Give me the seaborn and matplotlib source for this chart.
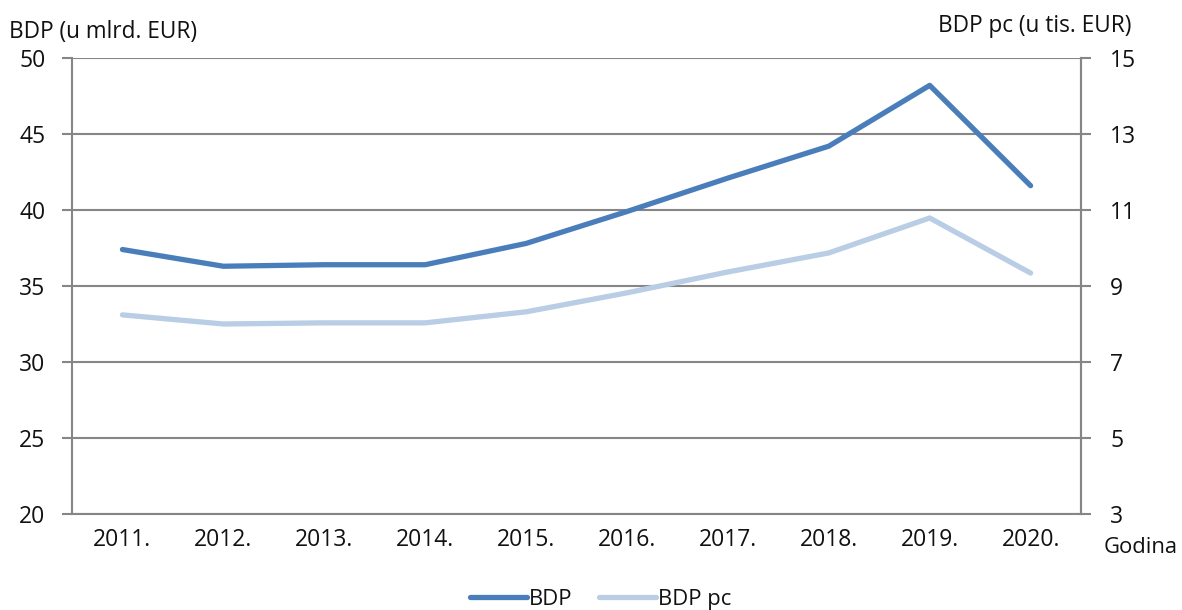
import matplotlib
matplotlib.use("Agg")
import matplotlib.pyplot as plt
import seaborn as sns
import pandas as pd
from matplotlib.ticker import FixedLocator, NullFormatter

# data
years = ["2011.", "2012.", "2013.", "2014.", "2015.", "2016.", "2017.", "2018.", "2019.", "2020."]
bdp = [37.4, 36.3, 36.4, 36.4, 37.8, 39.9, 42.1, 44.2, 48.2, 41.6]      # mlrd. EUR
bdp_pc = [8.24, 8.0, 8.03, 8.03, 8.32, 8.82, 9.37, 9.87, 10.79, 9.34]  # tis. EUR

left_ticks = [20, 25, 30, 35, 40, 45, 50]
right_ticks = [3, 5, 7, 9, 11, 13, 15]

col_bdp = "#4A7EBB"
col_pc = "#B9CDE5"
grey = "#868686"
txt = "#111111"

sns.set_style("white")
plt.rcParams["font.family"] = ["Open Sans", "DejaVu Sans"]

df = pd.DataFrame({"x": range(len(years)), "bdp": bdp, "bdp_pc": bdp_pc})

fig = plt.figure(figsize=(11.82, 6.10), dpi=100)
ax = fig.add_axes([0.0609, 0.1574, 0.8537, 0.7475])
ax2 = ax.twinx()

sns.lineplot(data=df, x="x", y="bdp", ax=ax, color=col_bdp, linewidth=3.8,
             solid_capstyle="round", label="BDP", legend=False)
sns.lineplot(data=df, x="x", y="bdp_pc", ax=ax2, color=col_pc, linewidth=3.8,
             solid_capstyle="round", label="BDP pc", legend=False)

ax.set_xlim(-0.5, len(years) - 0.5)
ax.set_ylim(20, 50)
ax2.set_ylim(3, 15)
ax.set_yticks(left_ticks)
ax2.set_yticks(right_ticks)

# category labels centred, tick marks on boundaries
ax.xaxis.set_major_locator(FixedLocator([i - 0.5 for i in range(len(years) + 1)]))
ax.xaxis.set_major_formatter(NullFormatter())
ax.xaxis.set_minor_locator(FixedLocator(list(range(len(years)))))
ax.set_xticklabels(years, minor=True)
ax.tick_params(axis="x", which="major", direction="out", length=7, width=1.5, color=grey)
ax.tick_params(axis="x", which="minor", length=0, pad=10, labelsize=16.5, labelcolor=txt)
ax.tick_params(axis="y", direction="out", length=7, width=1.5, color=grey,
               labelsize=16.5, labelcolor=txt, pad=12)
ax2.tick_params(axis="y", direction="out", length=7, width=1.5, color=grey,
                labelsize=16.5, labelcolor=txt, pad=14)

ax.grid(axis="y", color=grey, linewidth=1.5)
ax.set_axisbelow(True)
ax.set_xlabel("")
ax.set_ylabel("")
ax2.set_ylabel("")

for a in (ax, ax2):
    a.spines["top"].set_visible(False)
    for s in ("left", "right", "bottom"):
        a.spines[s].set_color(grey)
        a.spines[s].set_linewidth(1.5)
ax2.spines["left"].set_visible(False)
ax2.spines["bottom"].set_visible(False)

fig.text(0.008, 0.948, "BDP (u mlrd. EUR)", fontsize=16.3, ha="left", va="center", color=txt)
fig.text(0.957, 0.958, "BDP pc (u tis. EUR)", fontsize=16.3, ha="right", va="center", color=txt)
fig.text(0.934, 0.102, "Godina", fontsize=15.8, ha="left", va="center", color=txt)

h1, l1 = ax.get_legend_handles_labels()
h2, l2 = ax2.get_legend_handles_labels()
fig.legend(h1 + h2, l1 + l2, loc="center", bbox_to_anchor=(0.508, 0.018), ncol=2,
           frameon=False, fontsize=15.8, handlelength=2.6, handletextpad=0.1,
           columnspacing=1.2, labelcolor=txt)

fig.savefig("out.png", dpi=100)
